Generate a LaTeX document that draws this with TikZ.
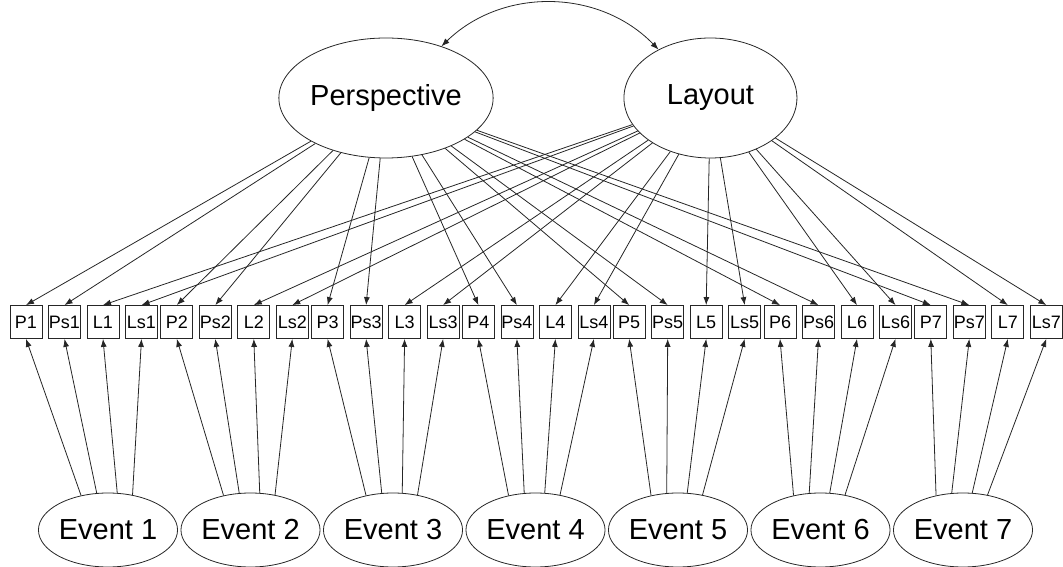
\documentclass[tikz,border=0pt]{standalone}
\usepackage{fontspec}
\setmainfont{Liberation Sans}
\usetikzlibrary{
	arrows.meta,
	shapes.geometric,
	positioning
}
\tikzset{
%Define standard arrow tip
>={Latex[length=8pt,width=6pt]},
%Define style for the latent factors
latent/.style={
	ellipse,
	draw=black!85, line width=0.8pt,
	minimum width=173pt,
	minimum height=120pt,
	inner sep=0pt,
	font=\fontsize{29}{32}\selectfont},
%Define style for the event factors
event/.style={
	latent,
	minimum width=120pt,
	minimum height=74pt},
%Define style for indicator boxes
obs/.style={
	rectangle,
	draw=black!85, line width=0.8pt,
	minimum width=32pt,
	minimum height=33pt,
	inner sep=0pt,
	font=\fontsize{18}{20}\selectfont},
% Define arrow styles
pil/.style={
	->,
	line width=0.8pt,
	draw=black!85},
lil/.style={
	<->,
	line width=0.8pt,
	draw=black!85}
}

\begin{document}
\begin{tikzpicture}[x=1pt,y=1pt]
	\useasboundingbox (0,0) rectangle (1063,567);
	% factors
	\node[latent] (persp) at (386,469) {Perspective};
	\node[latent, right=130pt of persp] (layout) {Layout};
	\draw[lil] (persp.43) to[bend left=45] (layout.137);
	% indicators and events
	\foreach \i in {1,...,7} {
		\node[obs] (P\i) at ({150.8*\i-124.8},245) {P\i};
		\node[obs, right=5.7pt of P\i] (Ps\i) {Ps\i};
		\node[obs, right=5.7pt of Ps\i] (L\i) {L\i};
		\node[obs, right=5.7pt of L\i] (Ls\i) {Ls\i};
		\node[event] (ev\i) at ({142.5*\i-34.5},37) {Event \i};
		\draw[pil] (persp) -- (P\i.north);
		\draw[pil] (persp) -- (Ps\i.north);
		\draw[pil] (layout) -- (L\i.north);
		\draw[pil] (layout) -- (Ls\i.north);
		% loadings from the event, spread over its top
		\draw[pil] (ev\i.128) -- (P\i.south);
		\draw[pil] (ev\i.107) -- (Ps\i.south);
		\draw[pil] (ev\i.76) -- (L\i.south);
		\draw[pil] (ev\i.55) -- (Ls\i.south);
	}
\end{tikzpicture}
\end{document}
